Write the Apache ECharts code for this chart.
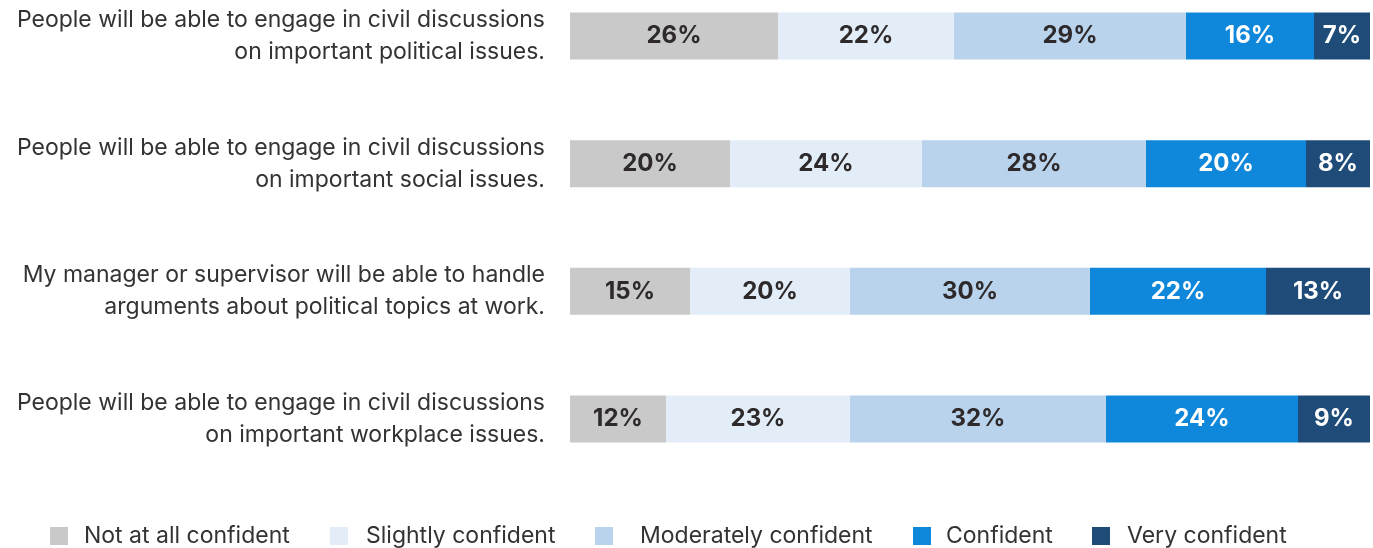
<!DOCTYPE html>
<html>
<head>
<meta charset="utf-8">
<script src="https://cdn.jsdelivr.net/npm/echarts@6/dist/echarts.min.js"></script>
<style>
  html, body { margin: 0; padding: 0; background: #ffffff; }
  #chart { width: 1373px; height: 548px; }
</style>
</head>
<body>
<div id="chart"></div>
<script>
// Survey statements (top to bottom)
const statements = [
  'People will be able to engage in civil discussions\non important political issues.',
  'People will be able to engage in civil discussions\non important social issues.',
  'My manager or supervisor will be able to handle\narguments about political topics at work.',
  'People will be able to engage in civil discussions\non important workplace issues.'
];

// Response levels and shares (%) per statement
const levels = ['Not at all confident', 'Slightly confident', 'Moderately confident', 'Confident', 'Very confident'];
const notAtAll   = [26, 20, 15, 12];
const slightly   = [22, 24, 20, 23];
const moderately = [29, 28, 30, 32];
const confident  = [16, 20, 22, 24];
const very       = [7, 8, 13, 9];

const levelValues = [notAtAll, slightly, moderately, confident, very];
const levelColors = ['#c9c9c9', '#e2edf8', '#b9d3ec', '#0f88db', '#1f4b79'];
const labelColors = ['#2e2a2b', '#2e2a2b', '#2e2a2b', '#ffffff', '#ffffff'];

const FONT = 'Inter, "Open Sans", sans-serif';

// Legend entries are laid out one by one along the bottom row
const legendLeft = [50, 330, 595, 913, 1092];
const legendTextGap = [16, 18, 27, 15, 17];

const chart = echarts.init(document.getElementById('chart'));

chart.setOption({
  animation: false,
  textStyle: { fontFamily: FONT },
  grid: { left: 570, right: 3, top: 36, bottom: 129, containLabel: false },
  xAxis: {
    type: 'value', min: 0, max: 100,
    show: false
  },
  yAxis: {
    type: 'category',
    data: statements,
    inverse: true,
    boundaryGap: false,
    axisLine: { show: false },
    axisTick: { show: false },
    splitLine: { show: false },
    axisLabel: {
      margin: 25,
      align: 'right',
      color: '#333333',
      fontSize: 23,
      lineHeight: 32,
      fontFamily: FONT
    }
  },
  legend: levels.map((name, i) => ({
    data: [name],
    top: 524,
    left: legendLeft[i],
    padding: 0,
    itemWidth: 18,
    itemHeight: 18,
    icon: 'rect',
    selectedMode: false,
    textStyle: {
      color: '#333333',
      fontSize: 23,
      lineHeight: 24,
      fontFamily: FONT,
      padding: [0, 0, 0, legendTextGap[i] - 5]
    }
  })),
  series: levels.map((name, i) => ({
    name: name,
    type: 'bar',
    stack: 'total',
    barWidth: 47,
    itemStyle: { color: levelColors[i] },
    label: {
      show: true,
      position: 'inside',
      formatter: p => p.value + '%',
      color: labelColors[i],
      fontSize: 24,
      fontWeight: 'bold',
      fontFamily: FONT
    },
    emphasis: { disabled: true },
    data: levelValues[i]
  }))
});
</script>
</body>
</html>
